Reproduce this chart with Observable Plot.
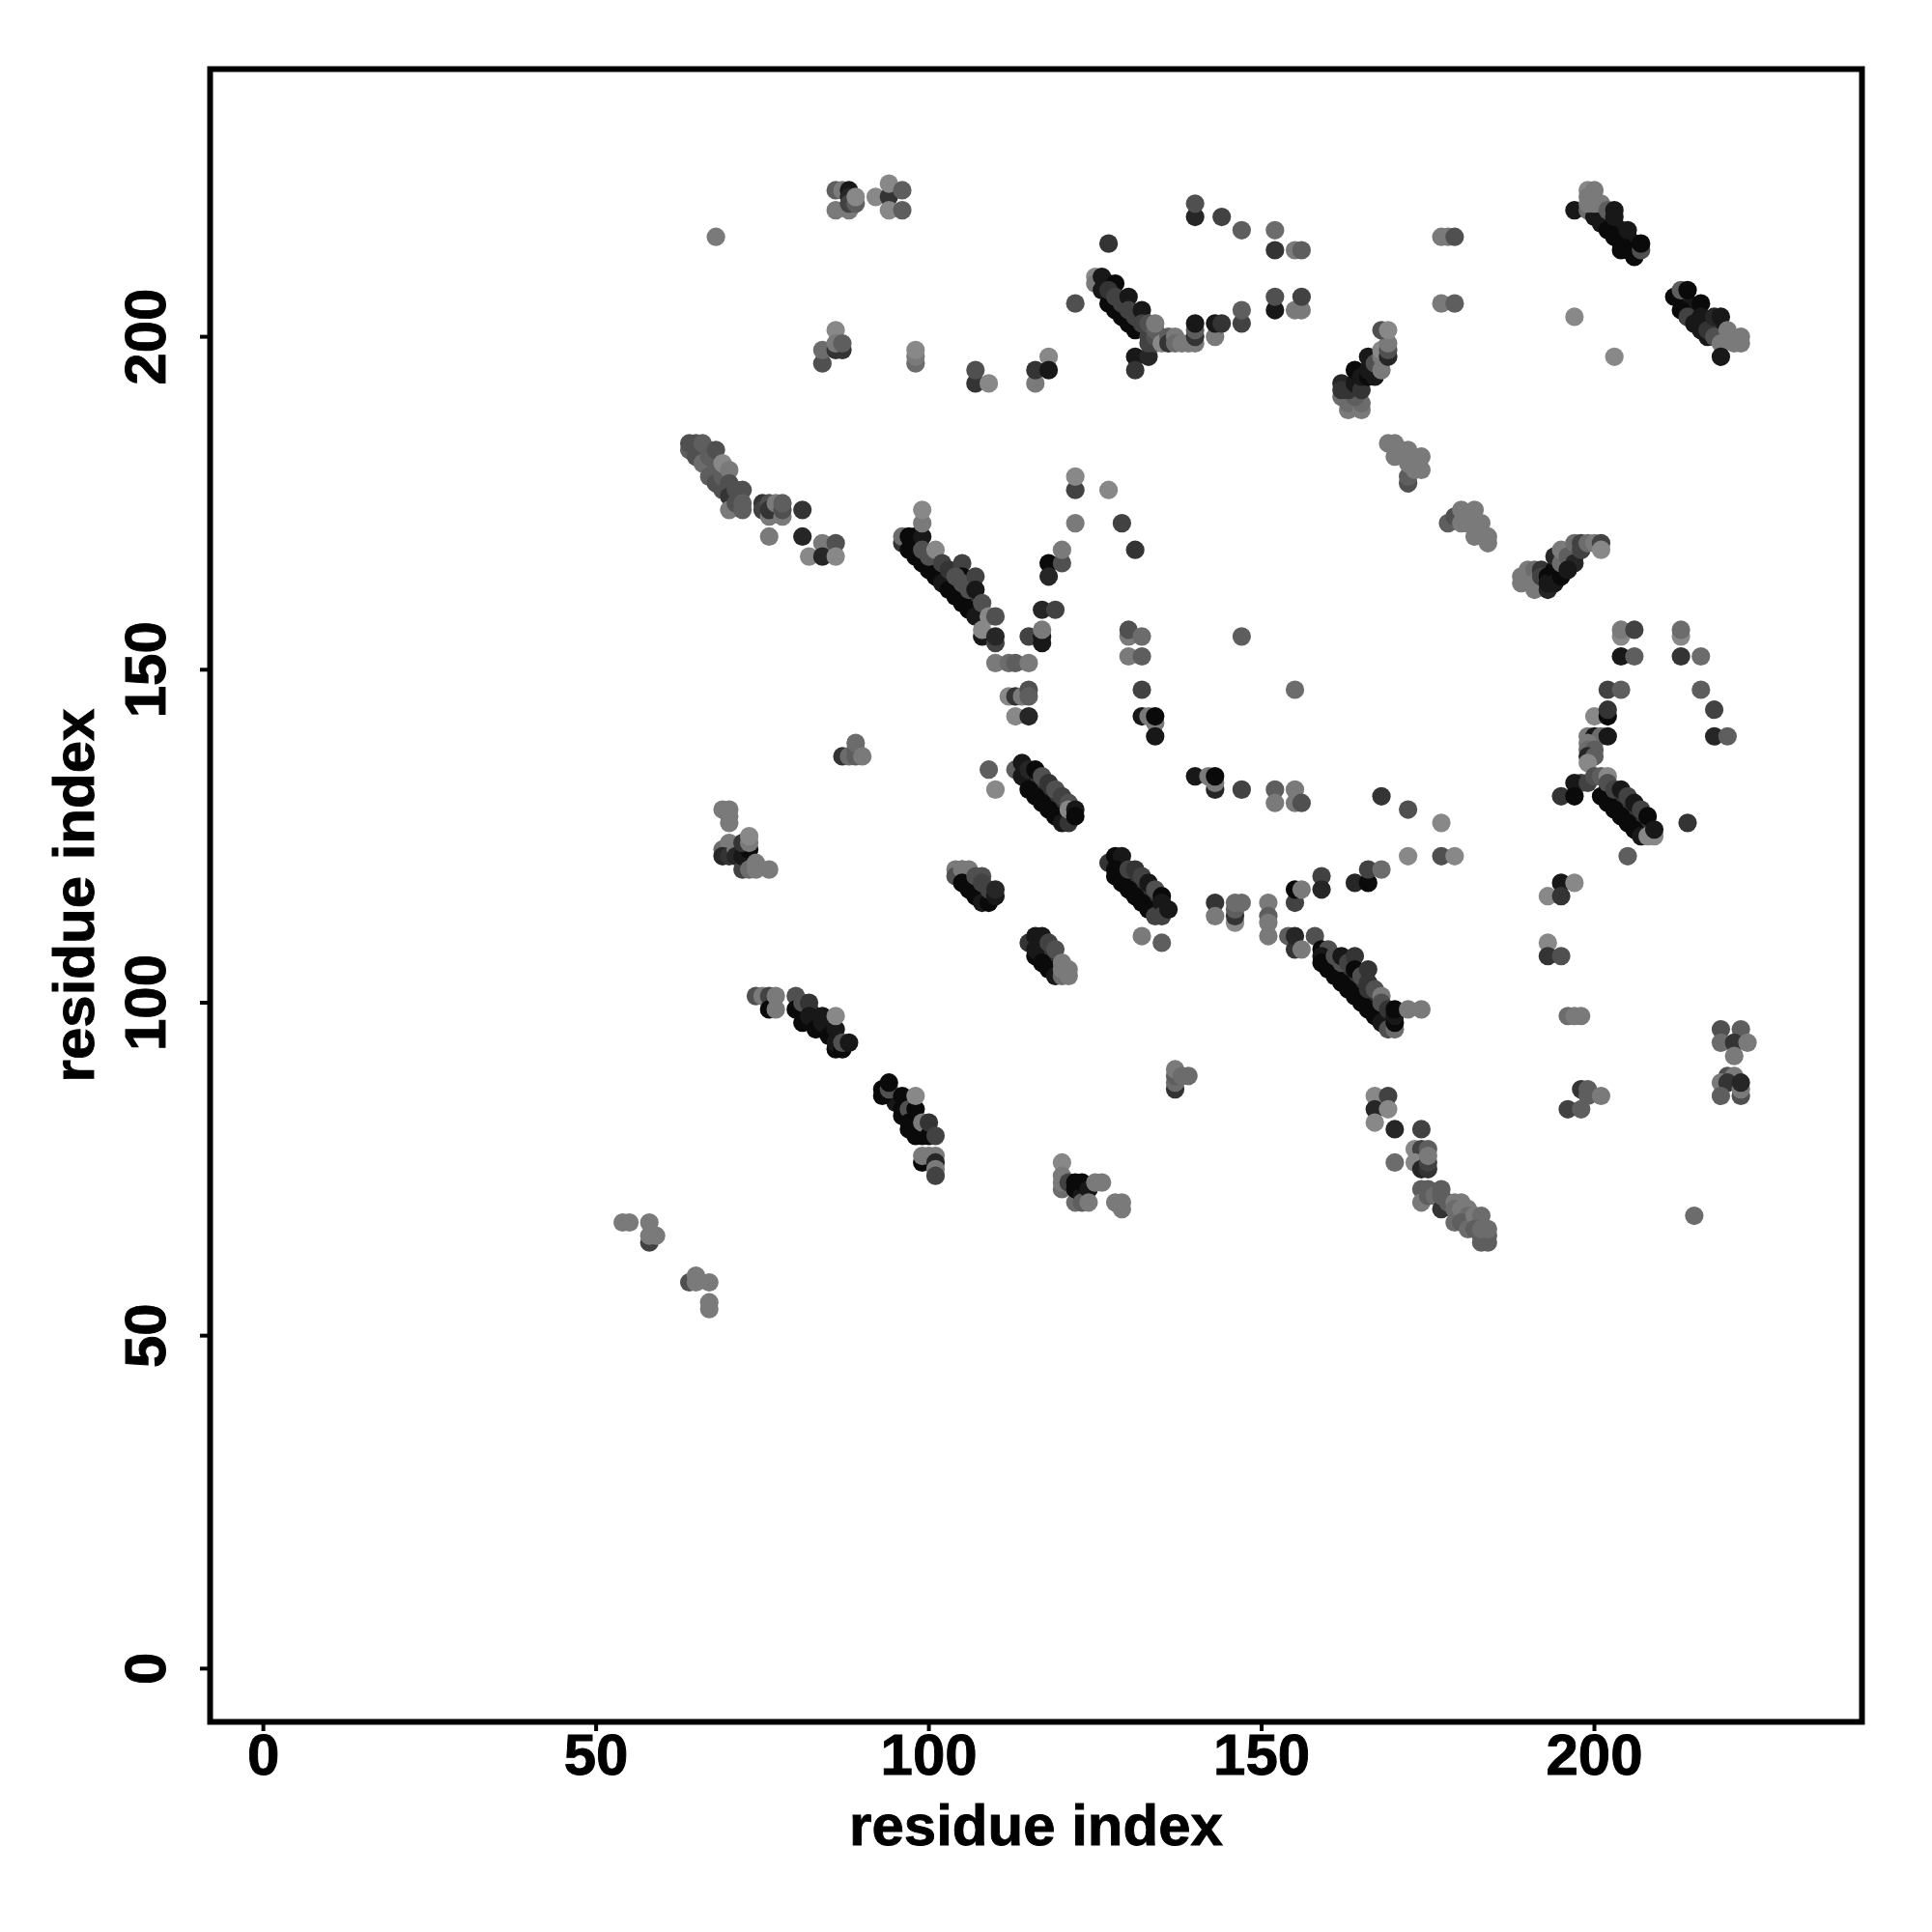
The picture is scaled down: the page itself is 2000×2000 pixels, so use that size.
<!DOCTYPE html>
<html>
<head>
<meta charset="utf-8">
<style>html,body{margin:0;padding:0;background:#fff}svg{display:block}svg text{stroke:#000;stroke-width:0.9px}</style>
<script src="https://cdn.jsdelivr.net/npm/d3@7"></script>
<script src="https://cdn.jsdelivr.net/npm/@observablehq/plot@0.6"></script>
</head>
<body>
<div id="chart"></div>
<script>
// each contact: [residue x, residue y, shade 0 (black) .. 9 (lightest grey)]
const xTicks = [0, 50, 100, 150, 200];
const yTicks = [0, 50, 100, 150, 200];
const axisTitle = "residue index";

const bandFill = [
 [99,168,4],[100,167,4],[101,166,3],[102,165,3],[103,164,4],[104,163,3],[105,162,3],[106,161,4],[107,160,3],
 [115,134,3],[116,133,3],[117,132,3],[118,131,3],[119,130,3],[120,129,3],[121,128,2],
 [128,121,3],[129,120,3],[130,119,3],[131,118,3],[132,117,3],[133,116,3],[134,115,3],
 [160,107,3],[161,106,3],[162,105,3],[163,104,3],[164,103,3],[165,102,3],[166,101,3],[167,100,3],[168,99,3],
 [105,120,3],[106,119,3],[107,118,3],[108,117,3],[109,116,3],
 [116,109,2],[117,108,3],[118,107,3],[119,106,3],[120,105,4],
 [202,132,3],[203,131,3],[204,130,3],[205,129,3],[206,128,3],[207,127,3],[208,126,3],
 [200,220,1],[201,219,1],[202,218,1],[203,217,1],[204,216,1],[205,215,1],[206,214,1],
 [213,206,1],[214,205,1],[215,204,1],[216,203,1],[217,202,1],[218,201,1],
 [214,203,0],[215,202,0],[216,201,1],[217,200,1],
 [194,164,2],[195,165,2],[196,166,2],[197,167,2],[198,168,2],
 [82,99,2],[83,98,2],[85,97,3],[95,85,1],[97,83,1],[98,82,1],[99,81,1]
];
const topLeft = [
 [86,222,6],[87,222,8],[86,219,8],[88,219,8],[88,222,1],[88,221,2],[88,220,4],[89,220,6],[89,221,9],
 [92,221,9],[94,221,3],[94,223,9],[94,219,9],[96,222,6],[96,219,6],[68,215,8],
 [86,201,9],[84,196,5],[84,198,7],[86,198,3],[87,198,3],[86,199,8],[87,199,6],
 [98,196,7],[98,197,8],[98,198,9],[107,193,3],[107,195,5],[109,193,9]
];
const diagA = [
 [64,183,6],[64,184,5],[65,184,5],[65,182,5],[66,184,6],[66,181,7],[67,183,6],[67,182,6],[67,179,6],[68,183,5],[68,180,6],[68,178,5],
 [69,177,5],[69,179,6],[69,181,9],[70,180,8],[70,178,5],[70,176,3],[70,174,8],[71,177,5],[71,175,5],[72,177,5],[72,175,6],[72,174,6],
 [75,175,3],[75,174,4],[76,175,5],[76,173,8],[76,174,3],[77,175,8],[78,173,8],[78,174,5],[78,175,6],
 [81,174,3],[76,170,8],[81,170,2],[82,167,9],[84,169,8],[84,167,2],[86,169,5],[86,167,9]
];
const diagB = [
 [96,169,3],[96,170,7],[97,170,0],[97,168,0],[98,170,0],[99,170,1],[98,167,0],[99,166,0],[100,165,0],[101,164,0],[102,163,1],[103,162,0],[104,161,0],[105,160,0],[106,159,0],[107,158,1],
 [99,172,8],[99,174,9],[99,168,5],[100,167,5],[101,168,9],[102,166,4],[103,165,3],[105,166,4],[105,164,0],[104,164,5],[105,163,5],[106,162,5],[107,164,4],[107,162,1],[108,160,5],
 [108,155,1],[108,156,9],[109,158,9],[110,158,5],[110,154,4],[110,155,2],
 [110,151,8],[112,151,7],[113,151,6],[115,151,8],
 [112,146,9],[113,146,3],[114,146,8],[115,147,5],[115,146,6],[113,143,9],[115,143,2],
 [115,155,4],[117,154,1],[117,155,1],[117,156,8],[117,159,2],[119,159,4],
 [118,166,0],[118,164,2],[120,166,5],[120,168,8],[122,177,4],[122,179,9],[122,172,8],
 [87,137,3],[88,137,7],[89,137,6],[89,138,6],[89,139,7],[90,137,8]
];
const topMiddle = [
 [118,197,9],[116,193,8],[116,195,3],[118,195,1],[127,214,3],[122,205,5],
 [125,209,9],[125,208,8],[126,207,1],[126,209,1],[127,208,1],[128,208,0],[127,205,0],[128,204,0],[129,203,0],[130,202,0],[131,201,0],[127,207,3],[128,206,4],[129,205,4],[130,206,1],[130,204,4],[131,203,4],[132,204,1],[132,202,4],
 [131,197,1],[131,195,3],[133,197,2],[133,199,4],[134,199,4],[133,200,4],[133,202,5],[134,200,5],[134,201,6],[134,202,8],
 [135,199,9],[136,200,6],[136,199,3],[137,200,8],[137,199,7],[138,199,8],[139,199,8],[140,199,8],[140,200,3],[140,201,6],[140,202,1],
 [143,200,8],[143,202,1],[144,202,3],[147,202,4],[147,204,6],
 [140,218,2],[140,220,5],[144,218,4],[147,216,6],[152,216,7],[152,213,3],[155,213,8],[156,213,6],
 [152,204,1],[152,206,5],[155,204,8],[156,204,8],[156,206,4],
 [127,177,9],[129,172,4],[131,168,3],
 [177,215,8],[178,215,8],[179,215,5],[177,205,8],[179,205,6]
];
const topRight = [
 [162,191,7],[163,189,8],[163,190,7],[165,189,8],[165,190,7],[164,191,6],[162,193,2],[162,192,3],[163,192,3],[164,193,1],[165,192,3],[164,195,0],[165,194,1],[166,194,0],[166,195,1],[166,197,1],
 [167,194,1],[167,196,5],[168,195,8],[168,197,8],[168,198,9],[169,197,2],[169,198,5],[169,199,8],[168,201,5],[169,201,9],
 [169,184,8],[170,184,8],[170,182,8],[171,183,8],[172,183,8],[172,178,5],[172,179,6],[172,181,8],[173,180,8],[174,180,8],[174,182,8],
 [178,172,6],[179,173,5],[180,174,8],[180,172,8],[181,172,8],[182,174,8],[183,172,8],[182,170,8],[184,170,8],[184,169,8],
 [197,219,1],[199,219,7],[200,218,1],[201,217,1],[202,216,0],[203,215,0],[204,214,0],[204,213,0],[205,213,0],[206,212,0],[199,222,9],[200,222,8],[199,221,8],[199,220,8],[200,220,8],[201,220,8],[202,219,6],[203,219,1],[203,218,1],[205,216,1],[207,213,5],[207,214,0],
 [212,206,0],[213,207,6],[214,207,0],[213,204,0],[214,203,4],[215,202,1],[216,205,0],[216,203,1],[217,201,3],[218,203,2],[219,203,1],[218,200,5],[220,201,8],[219,199,8],[221,199,8],[222,200,8],[222,199,8],[219,197,1],
 [197,203,9],[203,197,9],
 [189,164,8],[189,163,8],[190,165,8],[190,164,8],[191,165,7],[191,163,8],[191,162,8],[192,165,3],[192,164,4],[193,162,2],[193,164,0],[193,163,1],[194,165,0],[194,167,2],[194,163,1],[195,164,0],[195,166,7],[195,168,8],[196,167,6],[197,166,2],[196,165,1],
 [197,169,7],[198,168,4],[198,169,4],[199,169,7],[200,169,8],[201,169,4],[201,168,9]
];
const midRight = [
 [204,155,9],[204,156,8],[206,156,4],[204,152,1],[206,152,6],[213,155,9],[213,156,7],[213,152,3],[216,152,7],
 [202,147,4],[204,147,6],[216,147,6],[218,144,4],[218,140,2],[220,140,6],
 [200,143,9],[202,143,0],[202,144,3],[199,140,8],[200,140,1],[201,140,7],[202,140,1],[199,139,8],[199,138,7],[200,138,6],[199,137,2],[200,137,6],[199,136,9],
 [198,133,4],[197,133,1],[199,133,4],[200,134,5],[201,134,6],[202,134,9],[195,131,3],[197,131,0],
 [201,131,0],[202,130,0],[203,129,0],[204,128,0],[205,127,0],[206,126,0],[207,125,1],[202,133,5],[203,132,4],[204,132,1],[205,131,4],[206,130,1],[207,129,4],[208,128,0],[208,125,9],[209,125,9],[209,126,1],
 [214,127,3],[205,122,6],
 [195,118,1],[197,118,9],[193,116,9],[195,116,3],[193,109,9],[193,107,3],[195,107,5],
 [196,98,7],[197,98,8],[198,98,8]
];
const midCenter = [
 [130,155,8],[130,156,5],[130,152,8],[132,155,7],[132,152,6],[132,147,4],[147,155,6],[155,147,7],
 [132,143,1],[133,143,8],[134,142,8],[134,143,0],[134,140,1],
 [140,134,1],[142,134,8],[143,132,2],[143,133,8],[143,134,0],[147,132,4],[152,132,6],[152,130,8],[155,132,8],[155,130,8],[156,130,5],
 [168,131,3],[172,129,5],[177,127,9],[172,122,9],[177,122,5],[179,122,9],
 [109,135,6],[110,132,9],[113,135,6],[114,134,1],[114,136,1],[115,135,2],[115,132,0],[116,131,0],[117,130,0],[118,129,0],[119,128,0],[120,127,1],[121,127,3],[116,135,0],[117,134,5],[118,133,3],[119,132,5],[120,131,4],[121,130,5],[121,129,9],[122,129,1],[122,128,0],
 [127,121,3],[128,122,0],[129,122,1],[128,120,0],[128,119,0],[129,118,0],[130,117,0],[131,116,0],[132,115,0],[133,114,0],[134,113,4],[130,120,4],[131,120,3],[132,119,4],[133,118,1],[134,117,5],[135,116,0],[135,115,1],[135,113,4],[136,114,1],
 [132,110,8],[135,109,6],
 [143,115,3],[143,113,8],[146,112,9],[146,113,3],[146,114,6],[146,115,7],[147,115,7],
 [151,115,8],[151,113,6],[151,112,8],[151,110,8],
 [155,115,4],[155,117,0],[156,117,8],[159,119,4],[159,117,2],[164,118,2],[166,118,0],[166,120,4],[168,120,7],
 [154,110,6],[155,108,3],[155,110,2],[156,108,8],[158,110,5]
];
const diagC = [
 [159,108,0],[160,108,5],[159,107,1],[159,106,0],[160,105,0],[161,104,0],[162,103,0],[163,102,0],[164,101,0],[165,100,0],[166,99,0],[167,98,0],[168,97,1],
 [161,107,5],[162,106,5],[162,107,1],[163,106,4],[164,107,3],[164,105,0],[165,104,5],[166,105,3],[166,103,3],[166,102,3],[167,102,5],[168,101,8],[168,100,5],[169,99,3],[169,96,5],[170,96,7],[170,97,0],[170,98,1],[170,99,0],[172,99,8],[174,99,8]
];
const midLeft = [
 [69,129,8],[70,129,8],[70,128,8],[70,127,8],[69,123,7],[70,124,8],[69,122,2],[70,122,3],[71,123,8],[71,122,2],[72,120,4],[72,122,1],[73,123,0],[72,124,3],[73,124,8],[73,125,9],[73,120,7],[74,121,8],[74,120,8],[76,120,8],
 [104,120,8],[104,119,5],[105,120,8],[106,120,8],[105,118,0],[106,117,0],[107,116,0],[108,115,1],[109,115,0],[107,119,5],[108,119,5],[108,118,4],[109,117,4],[110,116,1],[110,117,2],
 [115,109,3],[116,110,1],[116,107,0],[116,108,1],[117,110,1],[117,106,0],[118,105,0],[118,109,4],[119,108,5],[119,104,1],[120,104,7],[120,106,8],[120,105,8],[121,105,8],[121,104,8],
 [74,101,5],[75,101,8],[76,101,4],[76,99,0],[77,99,8],[77,101,8],
 [80,101,5],[80,99,0],[81,100,5],[81,97,0],[82,100,3],[82,98,1],[83,96,0],[84,96,0],[84,97,1],[84,98,1],[85,95,0],[86,96,1],[86,98,9],[86,93,0],[86,94,1],[87,93,0],[87,94,5],[88,94,1]
];
const lowerLeft = [
 [93,86,0],[93,87,0],[94,87,5],[94,88,0],[96,86,0],[96,84,0],[96,83,0],[97,84,5],[97,82,0],[97,81,0],[98,84,0],[98,86,9],[98,80,0],[99,80,0],[99,82,8],[100,80,0],[100,82,3],[101,80,4],
 [99,76,0],[99,77,8],[100,77,8],[101,77,8],[101,76,2],[101,75,8],[101,74,4],
 [137,87,3],[137,88,7],[137,89,6],[137,90,8],[138,89,7],[139,89,7],
 [120,76,9],[120,72,7],[120,73,8],[120,74,8],[121,73,4],[122,73,0],[122,70,7],[122,72,0],[123,71,1],[123,73,0],[123,70,6],[124,72,1],[124,70,8],[125,73,8],[126,73,8],[128,70,8],[129,70,8],[129,69,8],
 [54,67,8],[55,67,8],[58,64,4],[58,65,8],[58,67,8],[59,65,8],[64,58,5],[65,58,8],[65,59,8],[67,58,8],[67,55,8],[67,54,8]
];
const lowerRight = [
 [167,86,9],[169,86,4],[167,84,2],[169,84,9],[167,82,9],[170,81,2],[174,81,4],[170,76,7],
 [173,78,9],[174,78,4],[175,78,6],[173,76,9],[174,75,2],[175,75,3],[175,76,4],[175,77,8],
 [174,72,6],[174,70,8],[175,72,6],[175,71,6],[176,71,7],[177,72,6],[177,69,3],[177,71,6],[178,70,6],[179,70,8],[180,70,8],[179,69,7],[179,67,7],[180,69,8],[181,69,8],[181,68,7],[180,67,6],[181,66,7],[182,68,8],[183,68,7],[182,66,6],[183,64,6],[183,65,6],[184,64,6],[184,65,6],[183,66,7],[184,66,7],
 [219,96,5],[222,96,6],[219,94,7],[221,94,3],[223,94,8],[221,92,8],[220,89,5],[221,89,8],[219,88,8],[220,88,3],[219,86,6],[222,86,5],[222,87,8],[222,88,2],
 [198,87,3],[199,87,6],[199,86,6],[201,86,8],[196,84,4],[198,84,6],
 [215,68,7]
];

const contacts = [...bandFill, ...topLeft, ...diagA, ...diagB, ...topMiddle, ...topRight, ...midRight, ...midCenter, ...diagC, ...midLeft, ...lowerLeft, ...lowerRight]
  .map(([x, y, shade]) => ({x, y, shade}));

const font = "'Liberation Sans', Arial, sans-serif";
const plot = Plot.plot({
  width: 2000,
  height: 2000,
  marginLeft: 217,
  marginRight: 73,
  marginTop: 71,
  marginBottom: 218,
  style: {background: "#fff", fontFamily: font, fontWeight: "bold", color: "#000"},
  x: {domain: [-8, 240.2]},
  y: {domain: [-8, 240.2]},
  color: {type: "linear", domain: [0, 9], range: ["#0a0a0a", "#888888"]},
  marks: [
    Plot.dot(contacts, {x: "x", y: "y", r: 9.6, fill: "shade", stroke: "none"}),
    Plot.frame({stroke: "#000", strokeWidth: 6}),
    Plot.axisX({ticks: xTicks, tickSize: 10, tickPadding: 2, strokeWidth: 4, fontSize: 60, fontWeight: "bold",
      tickFormat: d => String(d), label: axisTitle, labelArrow: "none", labelAnchor: "center", labelOffset: 127}),
    Plot.axisY({ticks: yTicks, tickSize: 10, tickPadding: 37, strokeWidth: 4, fontSize: 60, fontWeight: "bold", tickRotate: -90,
      tickFormat: d => String(d), label: axisTitle, labelArrow: "none", labelAnchor: "center", labelOffset: 163})
  ]
});
document.getElementById("chart").appendChild(plot);
</script>
</body>
</html>
